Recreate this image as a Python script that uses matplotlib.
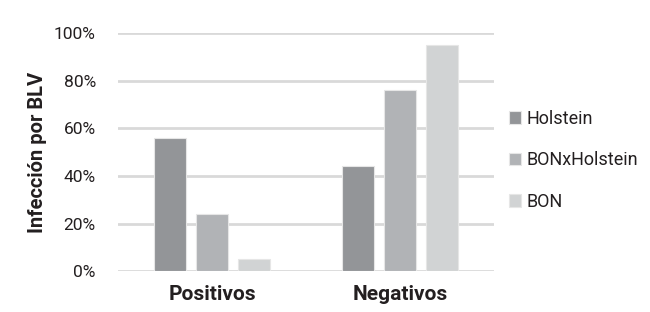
import matplotlib.pyplot as plt
import numpy as np

plt.rcParams['font.family'] = ['Roboto', 'DejaVu Sans']

categories = ["Positivos", "Negativos"]
series = ["Holstein", "BONxHolstein", "BON"]
holstein = [56, 44]
bon_x_holstein = [24, 76]
bon = [5, 95]
colors = ["#939598", "#b1b3b6", "#d1d3d4"]

fig = plt.figure(figsize=(6.5, 3.12), dpi=100)
ax = fig.add_axes([0.1815, 0.131, 0.5785, 0.763])

x = np.arange(len(categories))
w = 0.17
off = 0.223
for i, (vals, name) in enumerate(zip([holstein, bon_x_holstein, bon], series)):
    ax.bar(x + (i - 1) * off, vals, w, color=colors[i], label=name,
           edgecolor="#e6e6e6", linewidth=0.8, zorder=3)

ax.set_xlim(-0.5, 1.5)
ax.set_ylim(0, 100)
ax.set_yticks(range(0, 101, 20))
ax.set_yticklabels([f"{v}%" for v in range(0, 101, 20)], fontsize=12.5, color="#231f20")
ax.set_xticks(x)
ax.set_xticklabels(categories, fontsize=15, fontweight="bold", color="#231f20")
ax.tick_params(length=0, axis="y", pad=16)
ax.tick_params(length=0, axis="x", pad=10)
ax.grid(axis="y", color="#d9d9d9", linewidth=2, zorder=0)
ax.set_axisbelow(True)
for s in ax.spines.values():
    s.set_visible(False)
ax.set_ylabel("Infección por BLV", fontsize=14.5, fontweight="bold", color="#231f20", labelpad=5)

ax.legend(loc="center left", bbox_to_anchor=(1.02, 0.466), frameon=False, fontsize=13,
          handlelength=0.7, handleheight=0.7, handletextpad=0.3, labelspacing=1.3,
          labelcolor="#231f20", borderaxespad=0)

fig.savefig("out.png", dpi=100)
